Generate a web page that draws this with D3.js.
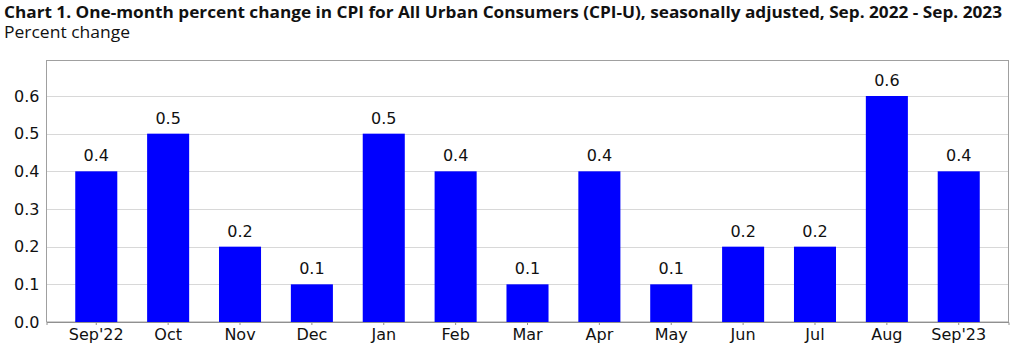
<!DOCTYPE html>
<html><head><meta charset="utf-8">
<script src="https://cdn.jsdelivr.net/npm/d3@7"></script>
<style>body{margin:0;background:#fff}svg{display:block}</style>
</head><body>
<svg id="c" width="1019" height="348"></svg>
<script>
const categories = ["Sep'22","Oct","Nov","Dec","Jan","Feb","Mar","Apr","May","Jun","Jul","Aug","Sep'23"];
const values = [0.4,0.5,0.2,0.1,0.5,0.4,0.1,0.4,0.1,0.2,0.2,0.6,0.4];
const yTicks = [0.0,0.1,0.2,0.3,0.4,0.5,0.6];
const titleText = "Chart 1. One-month percent change in CPI for All Urban Consumers (CPI-U), seasonally adjusted, Sep. 2022 - Sep. 2023";
const subtitleText = "Percent change";

const svg = d3.select("#c");
const L = 46.5, R = 1008.5, T = 60.5, B = 322;
const x = d3.scaleBand().domain(categories).range([L, R]).paddingInner(0.415).paddingOuter(0.4);
const y = d3.scaleLinear().domain([0, 0.6]).range([B, 96]);
const font = "'DejaVu Sans', Verdana, sans-serif";

svg.append("text").attr("x", 4).attr("y", 18)
  .attr("font-family", "'Open Sans', sans-serif").attr("font-weight", 700).attr("font-size", 15.5)
  .attr("textLength", 998).attr("lengthAdjust", "spacingAndGlyphs")
  .attr("fill", "#111").text(titleText);
svg.append("text").attr("x", 4).attr("y", 38)
  .attr("font-family", "'Open Sans', sans-serif").attr("font-size", 16)
  .attr("textLength", 126).attr("lengthAdjust", "spacingAndGlyphs")
  .attr("fill", "#111").text(subtitleText);

// gridlines
svg.append("g").selectAll("line").data(yTicks.filter(d => d > 0)).join("line")
  .attr("x1", L).attr("x2", R).attr("y1", d => Math.round(y(d)) + 0.5).attr("y2", d => Math.round(y(d)) + 0.5)
  .attr("stroke", "#b0b0b0").attr("stroke-dasharray", "1,1");

// frame
svg.append("rect").attr("x", L).attr("y", T).attr("width", R - L).attr("height", B - T)
  .attr("fill", "none").attr("stroke", "#a0a0a0");

// bars
svg.append("g").selectAll("rect").data(values).join("rect")
  .attr("x", (d, i) => x(categories[i])).attr("width", x.bandwidth())
  .attr("y", d => y(d)).attr("height", d => B - y(d))
  .attr("fill", "#0000ff");

// value labels
svg.append("g").selectAll("text").data(values).join("text")
  .attr("x", (d, i) => x(categories[i]) + x.bandwidth() / 2)
  .attr("y", d => y(d) - 10)
  .attr("text-anchor", "middle").attr("font-family", font).attr("font-size", 16).attr("fill", "#111")
  .text(d => d.toFixed(1));

// y axis
const yAxis = d3.axisLeft(y).tickValues(yTicks).tickFormat(d3.format(".1f")).tickSize(0).tickPadding(7);
const gy = svg.append("g").attr("transform", `translate(${L},0)`).call(yAxis);
gy.select(".domain").remove();
gy.selectAll("text").attr("font-family", font).attr("font-size", 16).attr("fill", "#111");

// x axis
const xAxis = d3.axisBottom(x).tickSize(3).tickPadding(4);
const gx = svg.append("g").attr("transform", `translate(0,${B})`).call(xAxis);
gx.select(".domain").attr("stroke", "#909090");
gx.selectAll(".tick line").attr("stroke", "#909090");
gx.selectAll("text").attr("font-family", font).attr("font-size", 16).attr("fill", "#111");
</script>
</body></html>
